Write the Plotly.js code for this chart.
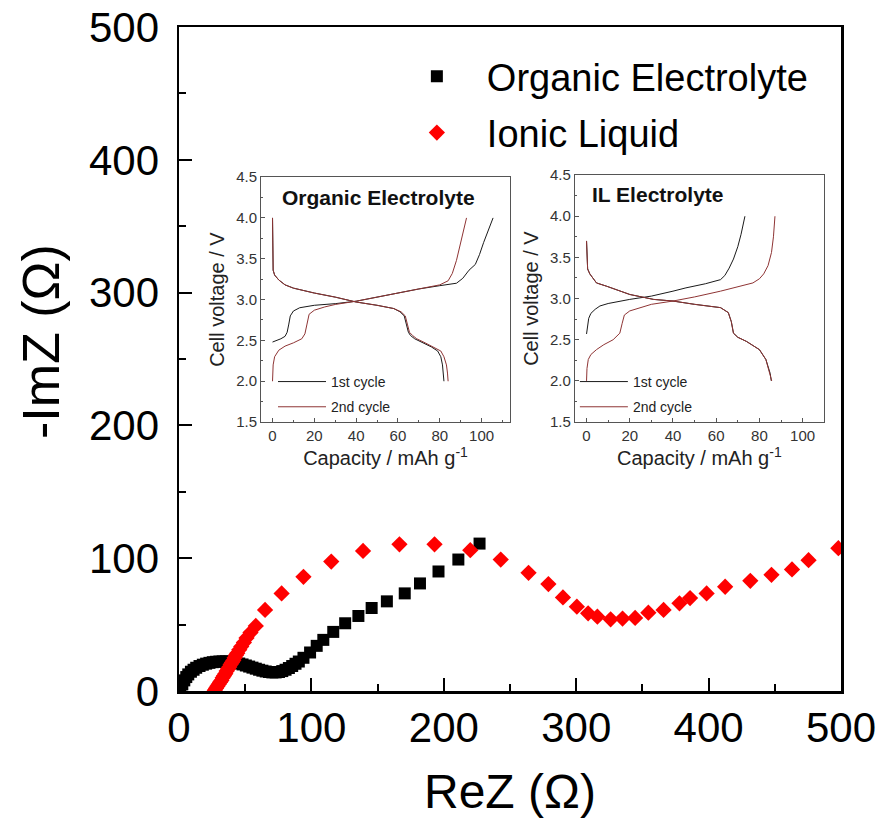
<!DOCTYPE html>
<html>
<head>
<meta charset="utf-8">
<script src="https://cdn.plot.ly/plotly-3.0.1.min.js"></script>
<style>html,body{margin:0;padding:0;background:#fff;}#chart{width:881px;height:821px;}</style>
</head>
<body>
<div id="chart"></div>
<script>
// ---- Main Nyquist data ----
const organicReZ = [1,2.5,4,5.5,7,9,11,13,15.5,18,20.5,23,25.5,28,30.5,33,35.5,38,40.5,43,45.5,48,50.5,53,55.5,58,60.5,63,65.5,68,70.5,73,75.5,78,80.5,83,85.5,88,90.5,94,99,104,109,116.5,125.5,135.5,145.5,157,170.5,182,196,211,227];
const organicImZ = [2,5,8,10.5,12.5,14.5,16,17.5,18.8,19.8,20.6,21.2,21.7,22,22.2,22.3,22.3,22.1,21.8,21.3,20.7,20,19.2,18.4,17.6,16.8,16,15.3,14.7,14.3,14,14,14.3,15,16,17.3,18.8,20.5,22.2,25,29,34,38.5,44.5,51,56.5,62.5,67.5,73.5,81,90,99,111];
const ionicReZ = [27,28,29,30,31,32,33,34,35,36,37,38,39,40,41,42,43,44,45.5,47,49,51,54,58,65,77.5,94,115,139,166.5,193,220,243,264,279,290,300.5,309,316,326,335,344.5,354.5,366,378,386,398.5,412.5,431.5,447.5,463,475.5,498];
const ionicImZ = [0.5,2,3.5,5,6.5,8,10,11.5,13,15,16.5,18,20,21.5,23,25,27,28.5,31,33.5,36.5,40,44,49,61,73.5,86,97.5,105.5,110.5,110.5,106,99,89,80.5,70.5,63.5,58.5,56,54,54.5,55,59,61,66,70,73.5,78.5,83,87.5,91.5,98.5,107.5];
const mainTicks = [0,100,200,300,400,500];

// ---- Inset: Organic Electrolyte ----
const orgCh1Cap = [0,2,4,6,7,7.8,8.5,10,13,20,30,40,50,60,70,80,85,88,91,94,97,99,101,103,105.5];
const orgCh1V   = [2.48,2.5,2.52,2.55,2.6,2.7,2.8,2.86,2.9,2.93,2.95,2.98,3.03,3.08,3.13,3.17,3.19,3.2,3.26,3.36,3.43,3.55,3.7,3.84,4.0];
const orgDis1Cap = [0,0.1,0.3,1,3,6,10,15,20,30,40,50,58,61,63,64,65,66,68,72,76,79,80.5,81.3,81.7,82];
const orgDis1V   = [4.0,3.6,3.36,3.3,3.24,3.18,3.14,3.11,3.08,3.03,2.97,2.93,2.89,2.85,2.8,2.7,2.6,2.56,2.52,2.47,2.42,2.37,2.3,2.2,2.1,2.0];
const orgCh2Cap = [0,0.3,1,3,6,10,14,15.5,16.5,17.5,20,25,30,40,50,60,70,80,84,86,88,89.5,91,92.8];
const orgCh2V   = [2.0,2.2,2.3,2.38,2.43,2.47,2.52,2.58,2.7,2.82,2.87,2.91,2.94,2.98,3.03,3.08,3.13,3.18,3.23,3.32,3.48,3.65,3.82,4.0];
const orgDis2Cap = [0,0.1,0.3,1,3,6,10,15,20,30,40,50,58,61.5,63.5,64.5,65.5,67,69,73,77,80.5,82,83.2,83.7,84];
const orgDis2V   = [4.0,3.6,3.36,3.3,3.24,3.18,3.14,3.11,3.08,3.03,2.97,2.93,2.89,2.85,2.8,2.7,2.6,2.56,2.52,2.47,2.42,2.37,2.3,2.2,2.1,2.0];

// ---- Inset: IL Electrolyte ----
const ilCh1Cap = [0,0.3,1,2,4,6.2,10,20,30,40,46,55,62,64,66,68,70,71.5,73.3];
const ilCh1V   = [2.57,2.65,2.76,2.82,2.87,2.91,2.94,2.99,3.03,3.09,3.13,3.18,3.23,3.28,3.37,3.48,3.63,3.78,4.0];
const ilDis1Cap = [0,0.1,0.5,1.5,4.6,9.3,15,20,31,40,50,62,65.6,67,68,70,74,80,83,85,85.5];
const ilDis1V   = [3.7,3.5,3.36,3.3,3.19,3.15,3.1,3.05,2.99,2.97,2.93,2.89,2.83,2.72,2.58,2.53,2.48,2.38,2.26,2.09,2.0];
const ilCh2Cap = [0,0.2,0.8,2,4.6,8,12.3,15.4,16.5,17.5,20,30,40,50,62,70,77,80,82,84,85.6,86.5,87.2];
const ilCh2V   = [2.0,2.15,2.26,2.32,2.38,2.44,2.5,2.58,2.7,2.8,2.85,2.93,2.97,3.02,3.09,3.14,3.19,3.24,3.3,3.4,3.56,3.75,4.0];
const ilDis2Cap = [0,0.1,0.5,1.5,4.6,9.3,15,20,31,40,50,62,65.6,67,68,70,74,80,83,85,85.7];
const ilDis2V   = [3.7,3.5,3.36,3.3,3.19,3.15,3.1,3.05,2.99,2.97,2.93,2.89,2.83,2.72,2.58,2.53,2.48,2.38,2.26,2.09,2.0];

const FONT = 'Liberation Sans, Arial, sans-serif';
const C1 = '#1a1a1a';
const C2 = '#8e3434';

const traces = [
  {x: organicReZ, y: organicImZ, type: 'scatter', mode: 'markers', name: 'Organic Electrolyte',
   marker: {symbol: 'square', size: 12, color: '#000000'}, xaxis: 'x', yaxis: 'y', legend: 'legend', legendgroup: 'm1'},
  {x: ionicReZ, y: ionicImZ, type: 'scatter', mode: 'markers', name: 'Ionic Liquid',
   marker: {symbol: 'diamond', size: 12.5, color: '#ff0000'}, xaxis: 'x', yaxis: 'y', legend: 'legend', legendgroup: 'm2'},
  // organic inset
  {x: orgCh1Cap, y: orgCh1V, type: 'scatter', mode: 'lines', name: '1st cycle', line: {color: C1, width: 1}, xaxis: 'x2', yaxis: 'y2', legend: 'legend2', legendgroup: 'o1'},
  {x: orgDis1Cap, y: orgDis1V, type: 'scatter', mode: 'lines', name: '1st cycle', line: {color: C1, width: 1}, xaxis: 'x2', yaxis: 'y2', showlegend: false, legendgroup: 'o1'},
  {x: orgCh2Cap, y: orgCh2V, type: 'scatter', mode: 'lines', name: '2nd cycle', line: {color: C2, width: 1}, xaxis: 'x2', yaxis: 'y2', legend: 'legend2', legendgroup: 'o2'},
  {x: orgDis2Cap, y: orgDis2V, type: 'scatter', mode: 'lines', name: '2nd cycle', line: {color: C2, width: 1}, xaxis: 'x2', yaxis: 'y2', showlegend: false, legendgroup: 'o2'},
  // IL inset
  {x: ilCh1Cap, y: ilCh1V, type: 'scatter', mode: 'lines', name: '1st cycle', line: {color: C1, width: 1}, xaxis: 'x3', yaxis: 'y3', legend: 'legend3', legendgroup: 'i1'},
  {x: ilDis1Cap, y: ilDis1V, type: 'scatter', mode: 'lines', name: '1st cycle', line: {color: C1, width: 1}, xaxis: 'x3', yaxis: 'y3', showlegend: false, legendgroup: 'i1'},
  {x: ilCh2Cap, y: ilCh2V, type: 'scatter', mode: 'lines', name: '2nd cycle', line: {color: C2, width: 1}, xaxis: 'x3', yaxis: 'y3', legend: 'legend3', legendgroup: 'i2'},
  {x: ilDis2Cap, y: ilDis2V, type: 'scatter', mode: 'lines', name: '2nd cycle', line: {color: C2, width: 1}, xaxis: 'x3', yaxis: 'y3', showlegend: false, legendgroup: 'i2'}
];

function insetX(domain, range) {
  return {domain: domain, range: range, showline: true, mirror: true, linecolor: '#555', linewidth: 1,
    ticks: 'inside', ticklen: 4, tickwidth: 1, tickcolor: '#555', dtick: 20, tick0: 0,
    minor: {dtick: 10, ticks: 'inside', ticklen: 2, tickcolor: '#555'},
    showgrid: false, zeroline: false, tickfont: {family: FONT, size: 15, color: '#333'},
    title: {text: 'Capacity / mAh g<sup>-1</sup>', font: {family: FONT, size: 20, color: '#222'}, standoff: 6}};
}
function insetY(domain) {
  return {domain: domain, range: [1.5, 4.5], showline: true, mirror: true, linecolor: '#555', linewidth: 1,
    ticks: 'inside', ticklen: 4, tickwidth: 1, tickcolor: '#555', dtick: 0.5, tick0: 1.5, tickformat: '.1f',
    minor: {dtick: 0.25, ticks: 'inside', ticklen: 2, tickcolor: '#555'},
    showgrid: false, zeroline: false, tickfont: {family: FONT, size: 15, color: '#333'},
    title: {text: 'Cell voltage / V', font: {family: FONT, size: 20, color: '#222'}, standoff: 6}};
}

const xa2 = insetX([0.1239, 0.5], [-5.5, 113.6]); xa2.anchor = 'y2';
const ya2 = insetY([0.405, 0.774]); ya2.anchor = 'x2';
const xa3 = insetX([0.598, 0.974], [-5.4, 109.8]); xa3.anchor = 'y3';
const ya3 = insetY([0.405, 0.777]); ya3.anchor = 'x3';

const layout = {
  width: 881, height: 821,
  margin: {l: 179, r: 40, t: 27, b: 130},
  paper_bgcolor: '#ffffff', plot_bgcolor: '#ffffff',
  font: {family: FONT, color: '#000'},
  showlegend: true,
  xaxis: {domain: [0, 1], range: [0, 500], tickvals: mainTicks, ticktext: mainTicks.map(String),
    showline: true, mirror: true, linecolor: '#000', linewidth: 2.5,
    ticks: 'inside', ticklen: 13, tickwidth: 2, tickcolor: '#000',
    minor: {dtick: 50, ticks: 'inside', ticklen: 7, tickwidth: 2, tickcolor: '#000'},
    showgrid: false, zeroline: false, ticklabelstandoff: -2,
    tickfont: {family: FONT, size: 42, color: '#000'}, anchor: 'y'},
  yaxis: {domain: [0, 1], range: [0, 500], tickvals: mainTicks, ticktext: mainTicks.map(String),
    showline: true, mirror: true, linecolor: '#000', linewidth: 2.5,
    ticks: 'inside', ticklen: 13, tickwidth: 2, tickcolor: '#000',
    minor: {dtick: 50, ticks: 'inside', ticklen: 7, tickwidth: 2, tickcolor: '#000'},
    showgrid: false, zeroline: false, ticklabelstandoff: 9,
    tickfont: {family: FONT, size: 42, color: '#000'}, anchor: 'x'},
  xaxis2: xa2, yaxis2: ya2, xaxis3: xa3, yaxis3: ya3,
  legend: {x: 0.314, y: 0.973, xanchor: 'left', yanchor: 'top', bgcolor: 'rgba(0,0,0,0)',
    font: {family: FONT, size: 38, color: '#000'}, itemwidth: 90, tracegroupgap: 4, traceorder: 'grouped'},
  legend2: {x: 0.142, y: 0.4895, xanchor: 'left', yanchor: 'top', bgcolor: 'rgba(0,0,0,0)',
    font: {family: FONT, size: 14, color: '#222'}, itemwidth: 48, tracegroupgap: 4, traceorder: 'grouped'},
  legend3: {x: 0.598, y: 0.4895, xanchor: 'left', yanchor: 'top', bgcolor: 'rgba(0,0,0,0)',
    font: {family: FONT, size: 14, color: '#222'}, itemwidth: 48, tracegroupgap: 4, traceorder: 'grouped'},
  annotations: [
    {text: '-ImZ (Ω)', xref: 'paper', yref: 'paper', x: -0.2085, y: 0.527, textangle: -90,
     showarrow: false, xanchor: 'center', yanchor: 'middle', font: {family: FONT, size: 52, color: '#000'}},
    {text: 'ReZ (Ω)', xref: 'paper', yref: 'paper', x: 0.5, y: -0.152,
     showarrow: false, xanchor: 'center', yanchor: 'middle', font: {family: FONT, size: 48, color: '#000'}},
    {text: '<b>Organic Electrolyte</b>', xref: 'paper', yref: 'paper', x: 0.1526, y: 0.7425,
     showarrow: false, xanchor: 'left', yanchor: 'middle', font: {family: FONT, size: 21, color: '#111'}},
    {text: '<b>IL Electrolyte</b>', xref: 'paper', yref: 'paper', x: 0.6208, y: 0.747,
     showarrow: false, xanchor: 'left', yanchor: 'middle', font: {family: FONT, size: 21, color: '#111'}}
  ]
};

Plotly.newPlot('chart', traces, layout, {displayModeBar: false, staticPlot: true});
</script>
</body>
</html>
